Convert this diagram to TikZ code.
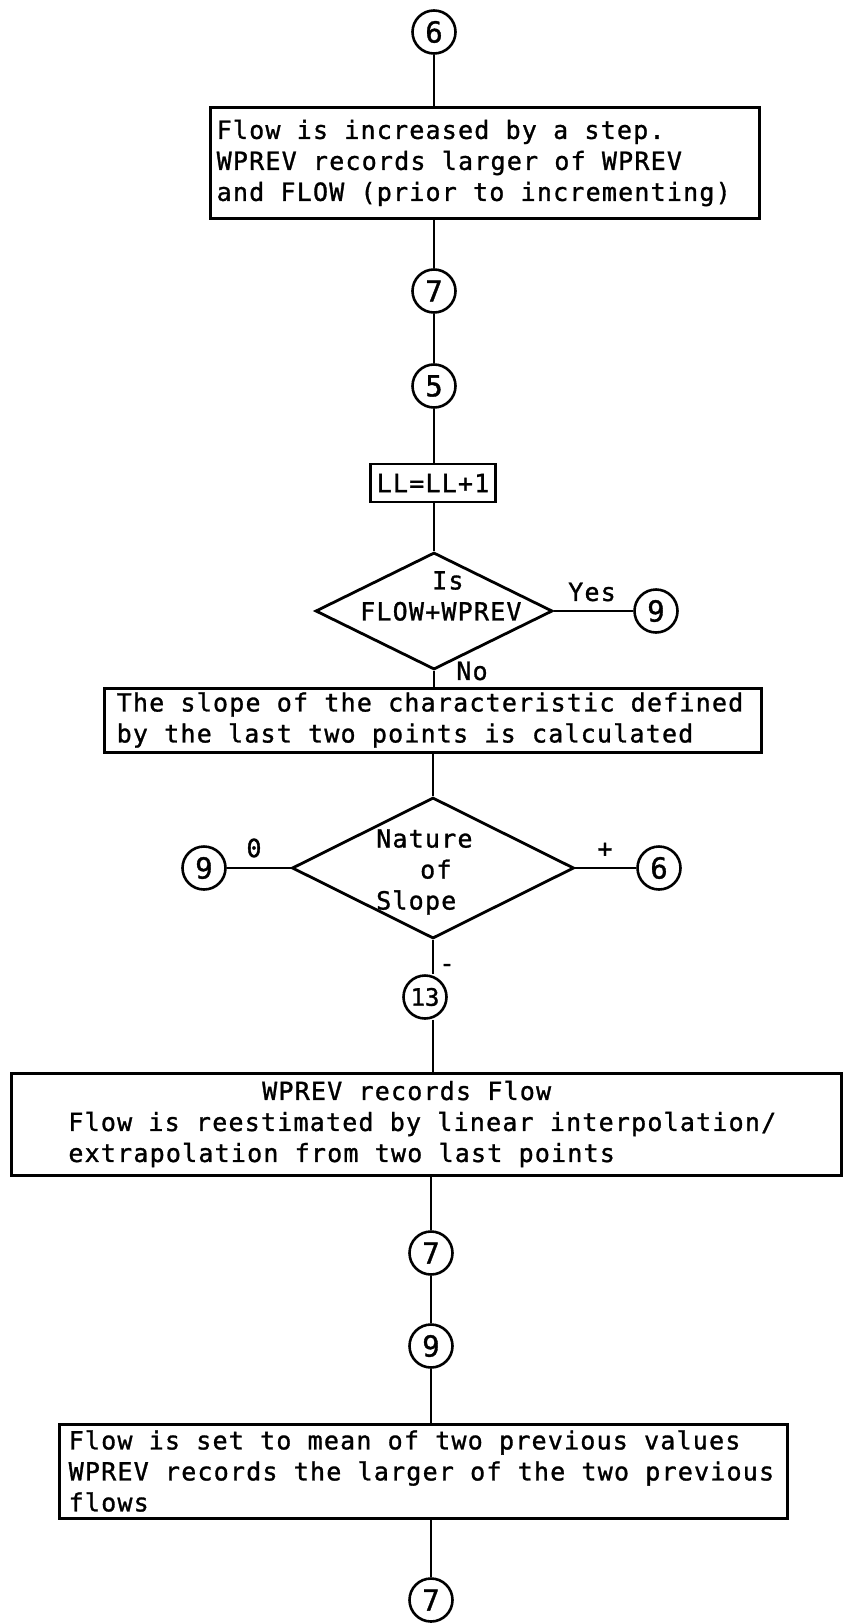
\documentclass[tikz,border=0pt]{standalone}
\usepackage{fontspec}
\newfontfamily\typew[LetterSpace=4.8,FakeBold=1.2]{DejaVu Sans Mono}
\newfontfamily\circfont[FakeBold=1.2]{DejaVu Sans Mono}
\usetikzlibrary{shapes.geometric}

\begin{document}
\begin{tikzpicture}[x=1pt, y=-1pt,
  every node/.style={font=\typew\fontsize{25pt}{31pt}\selectfont, inner sep=0pt},
  link/.style={line width=2.8pt},
  procbox/.style={draw, rectangle, line width=3pt},
  boxtext/.style={anchor=west, align=left},
  onpage/.style={draw, circle, line width=2.6pt, minimum size=43pt,
                 font=\circfont\fontsize{29pt}{31pt}\selectfont},
  decision/.style={draw, diamond, line width=2.8pt},
]
% page
\fill[white] (0,0) rectangle (844,1624);
\useasboundingbox (0,0) rectangle (844,1624);

% ---- step increase ----
\node[onpage] (c6a) at (434,32) {6};
\node[procbox, minimum width=549pt, minimum height=110pt] (b1) at (484.5,163) {};
\node[boxtext] (b1t) at ([xshift=8pt]b1.west) {Flow is increased by a step.\\WPREV records larger of WPREV\\and FLOW (prior to incrementing)};
\node[onpage] (c7a) at (434,291) {7};

% ---- entry 5 ----
\node[onpage] (c5) at (434,386) {5};
\node[procbox, line width=2.6pt, minimum width=125pt, minimum height=38pt] (ll) at (433,483) {LL=LL+1};

\node[decision, minimum width=237pt, minimum height=117pt] (d1) at (434,611) {};
\node[anchor=west, align=left] (d1t) at (360,596) {\hspace*{72pt}Is\\FLOW+WPREV};
\node (yes) at (592,592) {Yes};
\node (no) at (472,671) {No};
\node[onpage] (c9r) at (656,611) {9};

\node[procbox, minimum width=657pt, minimum height=64pt] (b3) at (432.5,720) {};
\node[boxtext] (b3t) at ([xshift=14pt]b3.west) {The slope of the characteristic defined\\by the last two points is calculated};

\node[decision, minimum width=282pt, minimum height=141pt] (d2) at (433,868) {};
\node[anchor=west, align=left] (d2t) at (376,872) {Nature\\\hspace*{44pt}of\\Slope};
\node[onpage] (c9l) at (204,868) {9};
\node (zero) at (254,848) {0};
\node[onpage] (c6r) at (659,868) {6};
\node (plus) at (605,850) {+};
\node (minus) at (447,968) {-};
\node[onpage, font=\circfont\fontsize{24pt}{26pt}\selectfont] (c13) at (425,997) {13};

% ---- entry 13 ----
\node[procbox, minimum width=830pt, minimum height=102pt] (b4) at (426.7,1124) {};
\node[boxtext] (b4t) at ([xshift=58pt]b4.west) {\hphantom{xxxxxxxxxxxx}WPREV records Flow\\Flow is reestimated by linear interpolation/\\extrapolation from two last points};
\node[onpage] (c7b) at (431,1253) {7};

% ---- entry 9 ----
\node[onpage] (c9b) at (431,1346) {9};
\node[procbox, minimum width=728pt, minimum height=94pt] (b5) at (423,1471) {};
\node[boxtext] (b5t) at ([xshift=11pt]b5.west) {Flow is set to mean of two previous values\\WPREV records the larger of the two previous\\flows};
\node[onpage] (c7c) at (431,1600) {7};

% ---- connectors ----
\draw[link] (c6a) -- (c6a |- b1.north);
\draw[link] (c7a |- b1.south) -- (c7a);
\draw[link] (c7a) -- (c5);
\draw[link] (c5) -- (c5 |- ll.north);
\draw[link] (c5 |- ll.south) -- (d1.north);
\draw[link] (d1) -- (c9r);
\draw[link] (d1.south) -- (d1.south |- b3.north);
\draw[link] (d2.north |- b3.south) -- (d2.north);
\draw[link] (d2) -- (c9l);
\draw[link] (d2) -- (c6r);
\draw[link] (d2.south) -- (d2.south |- c13.north);
\draw[link] (d2.south |- c13.south) -- (d2.south |- b4.north);
\draw[link] (c7b |- b4.south) -- (c7b);
\draw[link] (c7b) -- (c9b);
\draw[link] (c9b) -- (c9b |- b5.north);
\draw[link] (c7c |- b5.south) -- (c7c);
\end{tikzpicture}
\end{document}
